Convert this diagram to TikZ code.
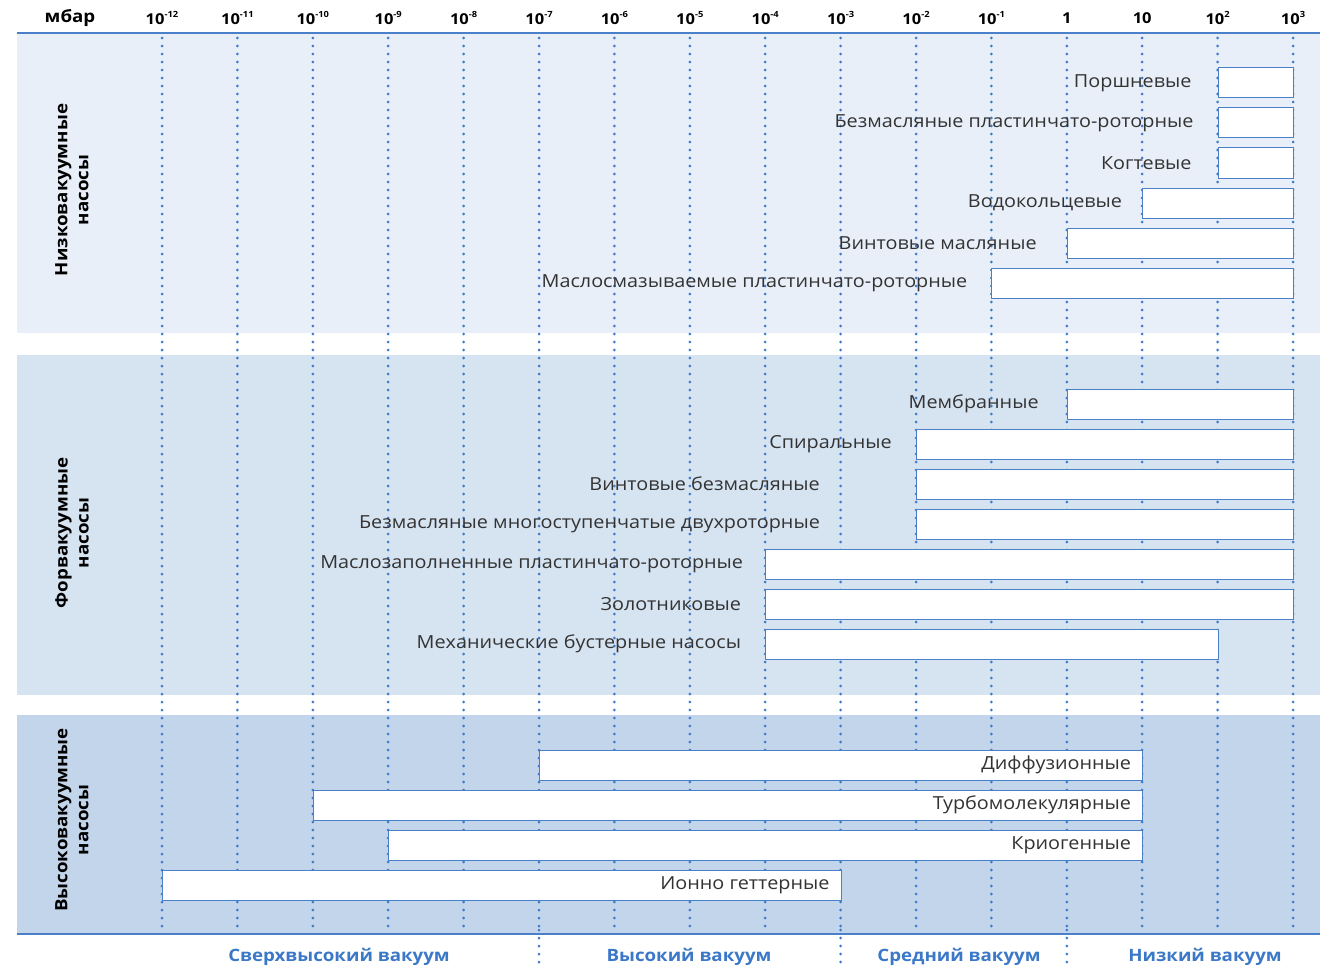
\documentclass[tikz,border=0pt]{standalone}
\usepackage{fontspec}
\setmainfont{Open Sans}[FakeStretch=1.1]
\usetikzlibrary{positioning}

\definecolor{bandlow}{HTML}{E8EFF8}
\definecolor{bandfore}{HTML}{D6E3F1}
\definecolor{bandhigh}{HTML}{C3D5EA}
\definecolor{axisblue}{HTML}{4A7FC9}
\definecolor{dotblue}{HTML}{3D7BD0}
\definecolor{rangeblue}{HTML}{3B78C8}
\definecolor{labelgray}{HTML}{333333}

\newcommand{\pw}[1]{10\raisebox{.45em}{\fontsize{8.5}{8.5}\selectfont #1}}

\tikzset{
  pumpbar/.style={draw=axisblue, line width=1pt, fill=white, minimum height=30pt,
    inner sep=0pt, anchor=west},
  pumplabel/.style={font=\fontsize{18}{20}\selectfont, text=labelgray, inner sep=0pt},
  ticklabel/.style={font=\bfseries\fontsize{15}{17}\selectfont, text=black},
  grouplabel/.style={font=\bfseries\fontsize{17}{21}\selectfont, rotate=90, align=center},
  rangelabel/.style={font=\bfseries\fontsize{17}{20}\selectfont, text=rangeblue},
  griddots/.style={dotblue, line width=3pt, line cap=round, dash pattern=on 0pt off 8pt}
}

\begin{document}
\begin{tikzpicture}[x=1pt, y=-1pt]
  \useasboundingbox (0,0) rectangle (1320,971);

  % bands
  \fill [bandlow] (17,33) rectangle (1320,333);
  \fill [bandfore] (17,355) rectangle (1320,695);
  \fill [bandhigh] (17,715) rectangle (1320,934);

  % header
  \node [ticklabel, font=\bfseries\fontsize{17}{20}\selectfont] (unit) at (70,18) {мбар};
  \foreach \i/\t in {0/\pw{-12}, 1/\pw{-11}, 2/\pw{-10}, 3/\pw{-9}, 4/\pw{-8},
      5/\pw{-7}, 6/\pw{-6}, 7/\pw{-5}, 8/\pw{-4}, 9/\pw{-3}, 10/\pw{-2},
      11/\pw{-1}, 12/1, 13/10, 14/\pw{2}, 15/\pw{3}} {
    \pgfmathsetmacro\xx{162+75.4*\i}
    \node [ticklabel] (tick\i) at (\xx,18) {\t};
    \draw [griddots] (\xx,38) -- (\xx,930);
  }
  \draw [axisblue, line width=1.5pt] (17,33) -- (1320,33);
  \draw [axisblue, line width=1.5pt] (17,934) -- (1320,934);

  % range boundaries
  \foreach \i in {5,9,12} {
    \pgfmathsetmacro\xx{162+75.4*\i}
    \draw [griddots] (\xx,930) -- (\xx,966);
  }

  % low vacuum pumps
  \foreach \name/\lab/\a/\b/\y/\gap in {
      piston/Поршневые/14/15/83/26,
      dryvane/Безмасляные пластинчато-роторные/14/15/123/24,
      claw/Когтевые/14/15/163/26,
      liquidring/Водокольцевые/13/15/203/20,
      oilscrew/Винтовые масляные/12/15/243/30,
      oilvane/Маслосмазываемые пластинчато-роторные/11/15/283/24} {
    \pgfmathsetmacro\xa{162+75.4*\a}
    \pgfmathsetmacro\w{75.4*(\b-\a)}
    \node [pumpbar, minimum width=\w pt] (\name) at (\xa,\y) {};
    \node [pumplabel, left=\gap pt of \name] (\name-l) {\lab};
  }

  % backing pumps
  \foreach \name/\lab/\a/\b/\y/\gap in {
      membrane/Мембранные/12/15/404/28,
      scroll/Спиральные/10/15/444/24,
      dryscrew/Винтовые безмасляные/10/15/484/96,
      roots/Безмасляные многоступенчатые двухроторные/10/15/524/96,
      oilfilled/Маслозаполненные пластинчато-роторные/8/15/564/22,
      slide/Золотниковые/8/15/604/24,
      booster/Механические бустерные насосы/8/14/644/24} {
    \pgfmathsetmacro\xa{162+75.4*\a}
    \pgfmathsetmacro\w{75.4*(\b-\a)}
    \node [pumpbar, minimum width=\w pt] (\name) at (\xa,\y) {};
    \node [pumplabel, left=\gap pt of \name] (\name-l) {\lab};
  }

  % high vacuum pumps
  \foreach \name/\lab/\a/\b/\y in {
      diffusion/Диффузионные/5/13/765,
      turbo/Турбомолекулярные/2/13/805,
      cryo/Криогенные/3/13/845,
      getter/Ионно геттерные/0/9/885} {
    \pgfmathsetmacro\xa{162+75.4*\a}
    \pgfmathsetmacro\w{75.4*(\b-\a)}
    \node [pumpbar, minimum width=\w pt] (\name) at (\xa,\y) {};
    \node [pumplabel, anchor=east] (\name-l) at ([xshift=-12pt]\name.east) {\lab};
  }

  % group names
  \node [grouplabel] (lowgroup) at (72,190) {Низковакуумные\\насосы};
  \node [grouplabel] (foregroup) at (72,533) {Форвакуумные\\насосы};
  \node [grouplabel] (highgroup) at (72,820) {Высоковакуумные\\насосы};

  % vacuum ranges
  \node [rangelabel] (uhv) at (339,957) {Сверхвысокий вакуум};
  \node [rangelabel] (hv) at (689,957) {Высокий вакуум};
  \node [rangelabel] (mv) at (959,957) {Средний вакуум};
  \node [rangelabel] (lv) at (1205,957) {Низкий вакуум};
\end{tikzpicture}
\end{document}
